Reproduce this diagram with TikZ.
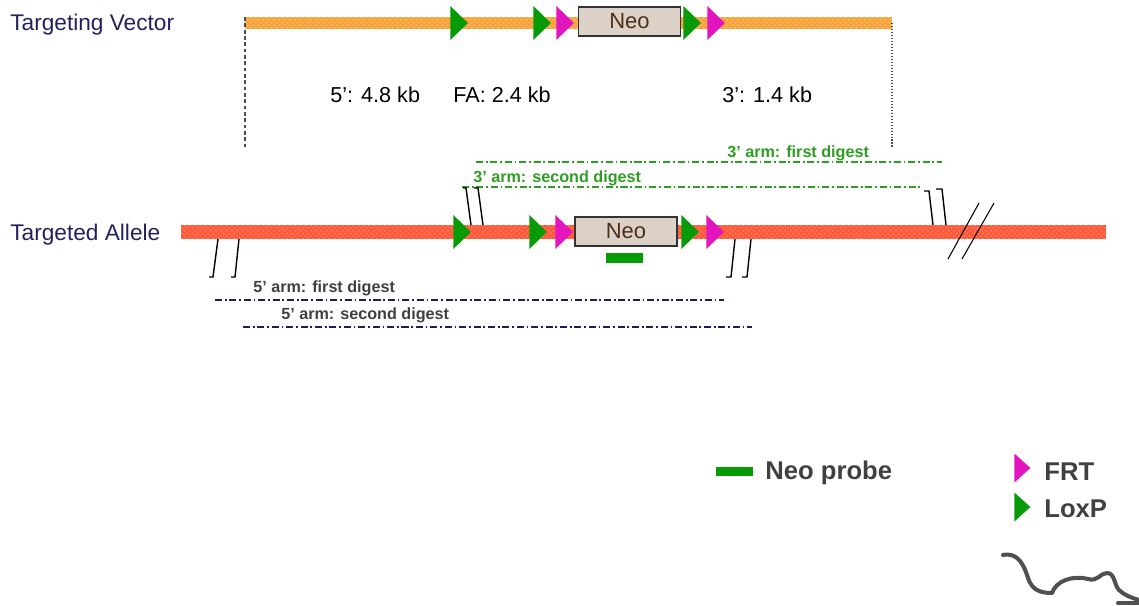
\documentclass[tikz,border=0pt]{standalone}
\usepackage{fontspec}
\setmainfont{Liberation Sans}
\usetikzlibrary{positioning,shapes.geometric,patterns}

\definecolor{navytext}{HTML}{23215C}
\definecolor{darktext}{HTML}{404040}
\definecolor{loxgreen}{HTML}{079B07}
\definecolor{frtpink}{HTML}{E215BE}
\definecolor{armgreen}{HTML}{2E9E22}
\definecolor{armnavy}{HTML}{1E1D55}
\definecolor{vecorange}{HTML}{F8A43C}
\definecolor{allelered}{HTML}{FF5B3A}
\definecolor{neofill}{HTML}{DCD1C6}
\definecolor{neotext}{HTML}{4B2E17}
\definecolor{mousegray}{HTML}{505050}

\begin{document}
\begin{tikzpicture}[x=0.02cm, y=-0.02cm,
    rowlabel/.style={anchor=base west, inner sep=0, text=navytext, font=\fontsize{12.9}{15}\selectfont},
    sizelabel/.style={anchor=base west, inner sep=0, font=\fontsize{12.3}{15}\selectfont},
    armlabel/.style={anchor=base west, inner sep=0, font=\bfseries\fontsize{9.2}{11}\selectfont},
    keylabel/.style={anchor=base west, inner sep=0, text=darktext, font=\bfseries\fontsize{14.6}{17}\selectfont},
    site/.style={isosceles triangle, isosceles triangle stretches, minimum height=0.35cm, minimum width=0.68cm, inner sep=0, anchor=west},
    loxp/.style={site, fill=loxgreen},
    frt/.style={site, fill=frtpink},
    neo/.style={rectangle, draw=black!80, line width=0.6pt, fill=neofill, minimum width=2.04cm, minimum height=0.58cm, inner sep=0, text=neotext, font=\fontsize{12.5}{15}\selectfont},
    probe/.style={rectangle, fill=loxgreen, minimum width=0.74cm, minimum height=0.19cm, inner sep=0},
    arm/.style={line width=1pt, dash pattern=on 4pt off 1.6pt on 1pt off 1.6pt},
    brk/.style={black, line width=0.8pt},
    guide/.style={black!70, line width=0.7pt}]

    \useasboundingbox (0,0) rectangle (1139,605);

    % targeting vector
    \coordinate (vs) at (245,17);
    \coordinate (ve) at (892,29);
    \fill[vecorange] (vs) rectangle (ve);
    \fill[pattern=crosshatch dots, pattern color=white, opacity=0.35] (vs) rectangle (ve);
    \coordinate (vcut1) at (245,147);
    \coordinate (vcut2) at (892,147);
    \draw[guide, dash pattern=on 2.2pt off 1.4pt] (vs) -- (vcut1);
    \draw[guide, densely dotted] (892,23) -- (vcut2);

    \node[rowlabel] (vlabel) at (10,31) {Targeting Vector};
    \node[loxp] (vlox1) at (450,23) {};
    \node[loxp] (vlox2) at (533,23) {};
    \node[frt] (vfrt1) at (556,23) {};
    \node[neo] (vneo) at (629.5,21.5) {Neo};
    \node[loxp] (vlox3) at (683,23) {};
    \node[frt] (vfrt2) at (707,23) {};

    \node[sizelabel] (arm5) at (330,102) {5’: 4.8 kb};
    \node[sizelabel] (armfa) at (453,102) {FA: 2.4 kb};
    \node[sizelabel] (arm3) at (722,102) {3’: 1.4 kb};

    % targeted allele
    \coordinate (as) at (181,225);
    \coordinate (ae) at (1106,239);
    \fill[allelered] (as) rectangle (ae);
    \fill[pattern=crosshatch dots, pattern color=white, opacity=0.3] (as) rectangle (ae);

    \node[rowlabel] (alabel) at (10,240) {Targeted Allele};
    \node[loxp] (alox1) at (453,232) {};
    \node[loxp] (alox2) at (529,232) {};
    \node[frt] (afrt1) at (555,232) {};
    \node[neo] (aneo) at (626,231.5) {Neo};
    \node[loxp] (alox3) at (681,232) {};
    \node[frt] (afrt2) at (706,232) {};
    \node[probe] (aprobe) at (624.5,258) {};

    % digest fragments
    \node[armlabel, text=armgreen] (g3first) at (727,157) {3’ arm: first digest};
    \node[armlabel, text=armgreen] (g3second) at (473,182) {3’ arm: second digest};
    \node[armlabel, text=darktext] (g5first) at (253,292) {5’ arm: first digest};
    \node[armlabel, text=darktext] (g5second) at (281,319) {5’ arm: second digest};

    \coordinate (f3a) at (476,162);  \coordinate (f3b) at (942,162);
    \coordinate (s3a) at (462,187);  \coordinate (s3b) at (922,187);
    \coordinate (f5a) at (215,300);  \coordinate (f5b) at (724,300);
    \coordinate (s5a) at (243,327);  \coordinate (s5b) at (752,327);
    \draw[arm, armgreen, line width=0.8pt] (f3a) -- (f3b);
    \draw[arm, armgreen, line width=0.8pt] (s3a) -- (s3b);
    \draw[arm, armnavy] (f5a) -- (f5b);
    \draw[arm, armnavy] (s5a) -- (s5b);

    % cut sites
    \draw[brk] (209,277) -- (213,277) -- (218,239);
    \draw[brk] (231,277) -- (235,277) -- (239,239);
    \draw[brk] (726,277) -- (731,277) -- (735,239);
    \draw[brk] (742,277) -- (747,277) -- (751,239);
    \draw[brk] (463,188) -- (466,188) -- (471,225);
    \draw[brk] (474,188) -- (478,188) -- (483,225);
    \draw[brk] (924,191) -- (929,191) -- (933,225);
    \draw[brk] (936,189) -- (942,189) -- (946,225);
    \draw[brk, line width=0.6pt] (948,259) -- (979,203);
    \draw[brk, line width=0.6pt] (962,259) -- (994,203);

    % key
    \node[probe] (keyprobe) at (734.5,471.5) {};
    \node[keylabel] (keyprobetext) at (765,479) {Neo probe};
    \node[frt, minimum height=0.32cm, minimum width=0.58cm] (keyfrt) at (1014,468) {};
    \node[keylabel] (keyfrttext) at (1044,480) {FRT};
    \node[loxp, minimum height=0.32cm, minimum width=0.58cm] (keylox) at (1014,507) {};
    \node[keylabel] (keyloxtext) at (1044,517) {LoxP};

    % mouse
    \draw[mousegray, line width=2.3pt, line cap=round, line join=round]
      (1003,555) .. controls (1018,552) and (1024,565) .. (1028,578)
      .. controls (1032,590) and (1040,593) .. (1052,593)
      .. controls (1056,581) and (1072,575) .. (1088,579)
      .. controls (1098,582) and (1100,573) .. (1107,573)
      .. controls (1115,573) and (1114,585) .. (1119,590)
      .. controls (1124,595) and (1132,598) .. (1139,600);
    \draw[mousegray, line width=2.3pt, line cap=round] (1118,603) -- (1139,603);
\end{tikzpicture}
\end{document}
